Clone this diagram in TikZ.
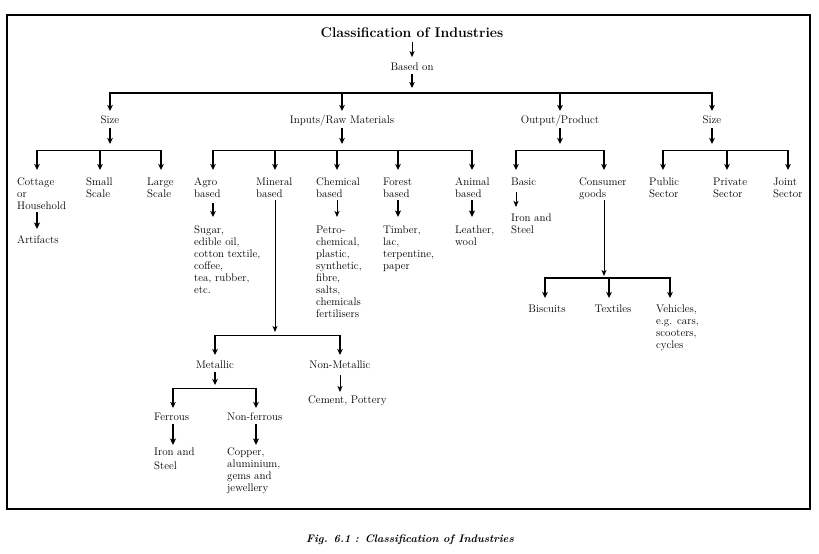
\documentclass[tikz,border=0pt]{standalone}
\usepackage{fontspec}
\usetikzlibrary{arrows.meta}
\begin{document}
\begin{tikzpicture}[x=1pt,y=-1pt,
  lbl/.style={font=\fontsize{11}{12}\selectfont, inner sep=0pt, align=left},
  ttl/.style={font=\fontsize{14}{16}\selectfont\bfseries, inner sep=0pt},
  captn/.style={font=\fontsize{10.9}{12}\selectfont\bfseries\itshape, inner sep=0pt},
  arr/.style={line width=1.3pt, -{Stealth[length=6pt,width=5.5pt,inset=1.5pt]}},
  tarr/.style={line width=1.8pt, -{Stealth[length=6.5pt,width=6pt,inset=1.5pt]}},
  tnarr/.style={line width=0.9pt, -{Stealth[length=6pt,width=5pt,inset=1.5pt]}},
  framebox/.style={line width=1.2pt}
]
\useasboundingbox (0,0) rectangle (819,554);
\draw[framebox] (7,15) rectangle (810,509);

% ---------- texts ----------
\node[ttl, anchor=base] (title) at (412,37) {Classification of Industries};
\node[lbl, anchor=base] (based) at (412,70) {Based on};

\node[lbl, anchor=base] (size1) at (110,123.5) {Size};
\node[lbl, anchor=base] (inputs) at (342,123.5) {Inputs/Raw Materials};
\node[lbl, anchor=base] (output) at (560,123.5) {Output/Product};
\node[lbl, anchor=base] (size2) at (712,123.5) {Size};

\node[lbl, anchor=north west] (cottage) at (17,176.6) {\strut Cottage\\or\\Household};
\node[lbl, anchor=north west] (small) at (86,176.6) {\strut Small\\Scale};
\node[lbl, anchor=north west] (large) at (147,176.6) {\strut Large\\Scale};
\node[lbl, anchor=north west] (agro) at (194,176.6) {\strut Agro\\based};
\node[lbl, anchor=north west] (mineral) at (256,176.6) {\strut Mineral\\based};
\node[lbl, anchor=north west] (chemical) at (316,176.6) {\strut Chemical\\based};
\node[lbl, anchor=north west] (forest) at (383,176.6) {\strut Forest\\based};
\node[lbl, anchor=north west] (animal) at (455,176.6) {\strut Animal\\based};
\node[lbl, anchor=north west] (basic) at (511,176.6) {\strut Basic};
\node[lbl, anchor=north west] (consumer) at (579,176.6) {\strut Consumer\\goods};
\node[lbl, anchor=north west] (public) at (649,176.6) {\strut Public\\Sector};
\node[lbl, anchor=north west] (private) at (713,176.6) {\strut Private\\Sector};
\node[lbl, anchor=north west] (joint) at (773,176.6) {\strut Joint\\Sector};

\node[lbl, anchor=base west] (artifacts) at (17,243) {Artifacts};
\node[lbl, anchor=north west] (agrolist) at (194,224.6) {\strut Sugar,\\edible oil,\\cotton textile,\\coffee,\\tea, rubber,\\etc.};
\node[lbl, anchor=north west] (chemlist) at (316,224.6) {\strut Petro-\\chemical,\\plastic,\\synthetic,\\fibre,\\salts,\\chemicals\\fertilisers};
\node[lbl, anchor=north west] (forestlist) at (383,224.6) {\strut Timber,\\lac,\\terpentine,\\paper};
\node[lbl, anchor=north west] (animallist) at (455,224.6) {\strut Leather,\\wool};
\node[lbl, anchor=north west] (basiclist) at (511,212.6) {\strut Iron and\\Steel};

\node[lbl, anchor=base] (metallic) at (215,368) {Metallic};
\node[lbl, anchor=base] (nonmetallic) at (340,368) {Non-Metallic};
\node[lbl, anchor=base west] (cement) at (308,403) {Cement, Pottery};
\node[lbl, anchor=base west] (ferrous) at (154,420) {Ferrous};
\node[lbl, anchor=base west] (nonferrous) at (227,420) {Non-ferrous};
\node[lbl, anchor=north west] (ironsteel) at (154,446.6) {\strut Iron and\\[2pt]Steel};
\node[lbl, anchor=north west] (copper) at (227,446.6) {\strut Copper,\\aluminium,\\gems and\\jewellery};

\node[lbl, anchor=base] (biscuits) at (547,312) {Biscuits};
\node[lbl, anchor=base] (textiles) at (613,312) {Textiles};
\node[lbl, anchor=north west] (vehicles) at (656,303.6) {\strut Vehicles,\\e.g. cars,\\scooters,\\cycles};

\node[captn, anchor=base] (caption) at (410,542) {Fig. 6.1 : Classification of Industries};

% ---------- junction coordinates ----------
\coordinate (b0) at (412,93);
\coordinate (size1-in) at (110,111);
\coordinate (inputs-in) at (342,111);
\coordinate (output-in) at (560,111);
\coordinate (size2-in) at (712,111);

\coordinate (size1-out) at (110,128);  \coordinate (b1) at (110,150.5);
\coordinate (inputs-out) at (342,128); \coordinate (b2) at (342,150.5);
\coordinate (output-out) at (560,128); \coordinate (b3) at (560,150.5);
\coordinate (size2-out) at (712,128);  \coordinate (b4) at (712,150.5);

\coordinate (cottage-in) at (37,170);
\coordinate (small-in) at (100,170);
\coordinate (large-in) at (161,170);
\coordinate (agro-in) at (213,170);
\coordinate (mineral-in) at (275,170);
\coordinate (chemical-in) at (337,170);
\coordinate (forest-in) at (398,170);
\coordinate (animal-in) at (472,170);
\coordinate (basic-in) at (516,170);
\coordinate (consumer-in) at (604,170);
\coordinate (public-in) at (663,170);
\coordinate (private-in) at (727,170);
\coordinate (joint-in) at (788,170);

\coordinate (cottage-out) at (37,212);   \coordinate (artifacts-in) at (37,229);
\coordinate (agro-out) at (213,203);     \coordinate (agrolist-in) at (213,217);
\coordinate (mineral-out) at (275,200);  \coordinate (b5) at (275,335.5);
\coordinate (chemical-out) at (337,200); \coordinate (chemlist-in) at (337,217);
\coordinate (forest-out) at (398,200);   \coordinate (forestlist-in) at (398,217);
\coordinate (animal-out) at (472,200);   \coordinate (animallist-in) at (472,217);
\coordinate (basic-out) at (516,192);    \coordinate (basiclist-in) at (516,207);
\coordinate (consumer-out) at (604,200); \coordinate (b6) at (604,278);

\coordinate (metallic-in) at (215,355);
\coordinate (nonmetallic-in) at (340,355);
\coordinate (biscuits-in) at (545,298);
\coordinate (textiles-in) at (609,298);
\coordinate (vehicles-in) at (670,298);

\coordinate (metallic-out) at (215,372);   \coordinate (b7) at (215,388.5);
\coordinate (ferrous-in) at (173,408);
\coordinate (nonferrous-in) at (256,408);
\coordinate (ferrous-out) at (173,424);    \coordinate (ironsteel-in) at (173,445);
\coordinate (nonferrous-out) at (256,424); \coordinate (copper-in) at (256,445);
\coordinate (nonmetallic-out) at (340,375); \coordinate (cement-in) at (340,392);

% ---------- connectors ----------
\draw[tnarr, shorten <=5pt, shorten >=5pt] (title.south) -- (based.north);
\draw[arr, shorten <=3.5pt, shorten >=5pt] (based.south) -- (b0);

\foreach \t in {size1-in, inputs-in, output-in, size2-in}
  \draw[arr] (b0) -| (\t);

\draw[arr, shorten >=6.5pt] (size1-out) -- (b1);
\draw[arr, shorten >=6.5pt] (inputs-out) -- (b2);
\draw[arr, shorten >=6.5pt] (output-out) -- (b3);
\draw[arr, shorten >=6.5pt] (size2-out) -- (b4);

\foreach \t in {cottage-in, small-in, large-in}
  \draw[arr] (b1) -| (\t);
\foreach \t in {agro-in, mineral-in, chemical-in, forest-in, animal-in}
  \draw[arr] (b2) -| (\t);
\foreach \t in {basic-in, consumer-in}
  \draw[arr] (b3) -| (\t);
\foreach \t in {public-in, private-in, joint-in}
  \draw[arr] (b4) -| (\t);

\draw[tarr] (cottage-out) -- (artifacts-in);
\draw[arr] (agro-out) -- (agrolist-in);
\draw[tnarr, shorten >=3.5pt] (mineral-out) -- (b5);
\draw[tnarr] (chemical-out) -- (chemlist-in);
\draw[tarr] (forest-out) -- (forestlist-in);
\draw[tarr] (animal-out) -- (animallist-in);
\draw[tnarr] (basic-out) -- (basiclist-in);
\draw[tnarr, shorten >=2pt] (consumer-out) -- (b6);

\foreach \t in {metallic-in, nonmetallic-in}
  \draw[arr] (b5) -| (\t);
\foreach \t in {biscuits-in, textiles-in, vehicles-in}
  \draw[arr] (b6) -| (\t);

\draw[arr, shorten >=3.5pt] (metallic-out) -- (b7);
\foreach \t in {ferrous-in, nonferrous-in}
  \draw[arr] (b7) -| (\t);
\draw[tarr] (ferrous-out) -- (ironsteel-in);
\draw[tarr] (nonferrous-out) -- (copper-in);
\draw[tnarr] (nonmetallic-out) -- (cement-in);
\end{tikzpicture}
\end{document}
